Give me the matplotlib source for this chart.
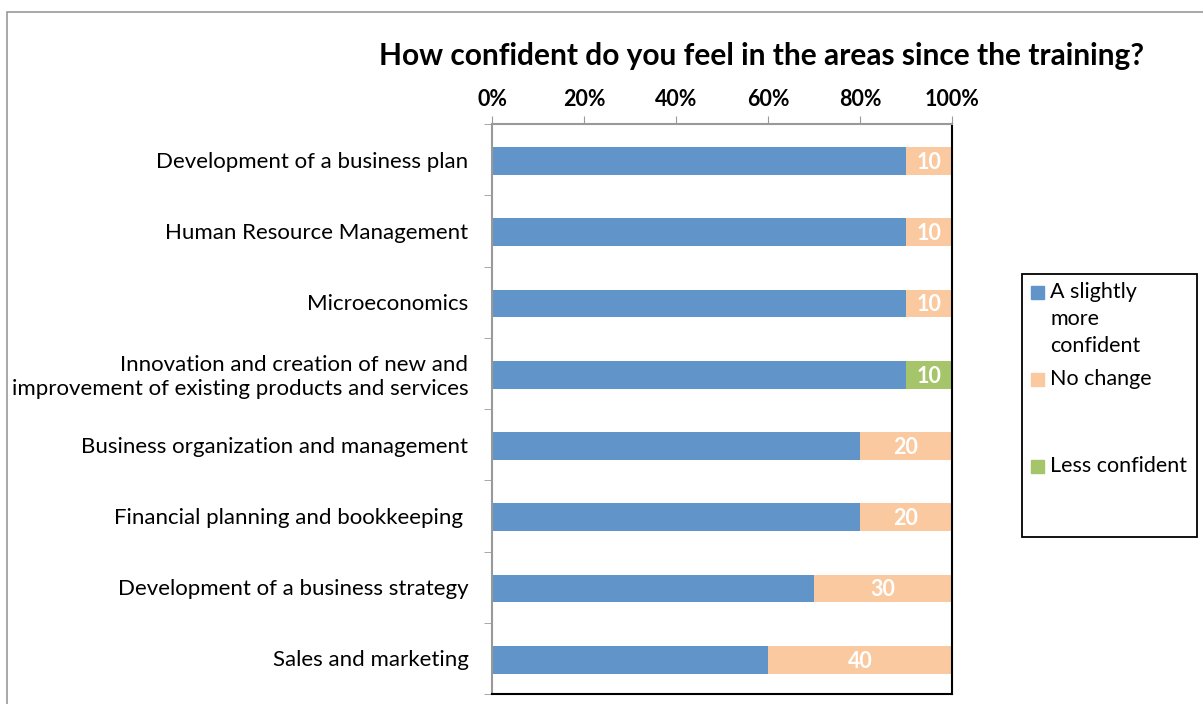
import matplotlib.pyplot as plt
from matplotlib.patches import Rectangle
import numpy as np

plt.rcParams['font.family'] = ['Lato', 'DejaVu Sans']

# survey answers, share of respondents in %
categories = ['Development of a business plan',
              'Human Resource Management',
              'Microeconomics',
              'Innovation and creation of new and\nimprovement of existing products and services',
              'Business organization and management',
              'Financial planning and bookkeeping ',
              'Development of a business strategy',
              'Sales and marketing']
more_confident = [90, 90, 90, 90, 80, 80, 70, 60]
no_change = [10, 10, 10, 0, 20, 20, 30, 40]
less_confident = [0, 0, 0, 10, 0, 0, 0, 0]

series_names = ['A slightly\nmore\nconfident', 'No change', 'Less confident']
colors = ['#6195C9', '#FAC9A0', '#A6C46A']
x_ticks = [0, 20, 40, 60, 80, 100]

fig = plt.figure(figsize=(12.03, 7.04), dpi=100)

# outer chart frame
fig.patches.append(Rectangle((7 / 1203, -0.05), 1.2, 1 - 12 / 704 + 0.05,
                             transform=fig.transFigure, fill=False,
                             edgecolor='#999999', lw=1.2))

ax = fig.add_axes([492 / 1203, 1 - 694 / 704, 460 / 1203, (694 - 124) / 704])

y = np.arange(len(categories))
h = 0.39
left = np.zeros(len(categories))
for vals, c in zip([more_confident, no_change, less_confident], colors):
    vals = np.array(vals, dtype=float)
    ax.barh(y + 0.02, vals, left=left, height=h, color=c, edgecolor='none')
    left = left + vals

# value labels on the right-hand segments only
left = np.array(more_confident, dtype=float)
for vals in [no_change, less_confident]:
    for i, v in enumerate(vals):
        if v > 0:
            ax.text(left[i] + v / 2, y[i] + 0.04, str(v), ha='center', va='center',
                    color='white', fontsize=15.5, fontweight='bold')
    left = left + np.array(vals, dtype=float)

ax.set_xlim(0, 100)
ax.set_ylim(len(categories) - 0.5, -0.5)

ax.xaxis.tick_top()
ax.set_xticks(x_ticks)
ax.set_xticklabels([f'{t}%' for t in x_ticks], fontsize=15.5, fontweight='bold')
ax.tick_params(axis='x', direction='out', length=6, color='#999999', pad=4)

ax.set_yticks(y)
ax.set_yticklabels(categories, fontsize=16, linespacing=1.2)
ax.set_yticks(np.arange(len(categories) + 1) - 0.5, minor=True)
ax.tick_params(axis='y', which='major', length=0, pad=17)
ax.tick_params(axis='y', which='minor', direction='out', length=6, color='#999999')

for s in ['top', 'left']:
    ax.spines[s].set_color('#999999')
    ax.spines[s].set_linewidth(1.5)
for s in ['right', 'bottom']:
    ax.spines[s].set_color('black')
    ax.spines[s].set_linewidth(1.5)

fig.text(761 / 1203, 1 - 56 / 704, 'How confident do you feel in the areas since the training?',
         ha='center', va='center', fontsize=21.5, fontweight='bold')

# legend box drawn by hand so the entries keep their even spacing
fig.patches.append(Rectangle((1022 / 1203, 1 - 537 / 704), 175 / 1203, 263 / 704,
                             transform=fig.transFigure, fill=False,
                             edgecolor='black', lw=1.3))
for k, (name, c) in enumerate(zip(series_names, colors)):
    ytop = 284 + 87 * k
    fig.patches.append(Rectangle((1031 / 1203, 1 - (ytop + 15) / 704), 13 / 1203, 13 / 704,
                                 transform=fig.transFigure, color=c))
    fig.text(1050 / 1203, 1 - (ytop - 2) / 704, name, ha='left', va='top',
             fontsize=15.5, linespacing=1.45)

fig.savefig('out.png', dpi=100)
